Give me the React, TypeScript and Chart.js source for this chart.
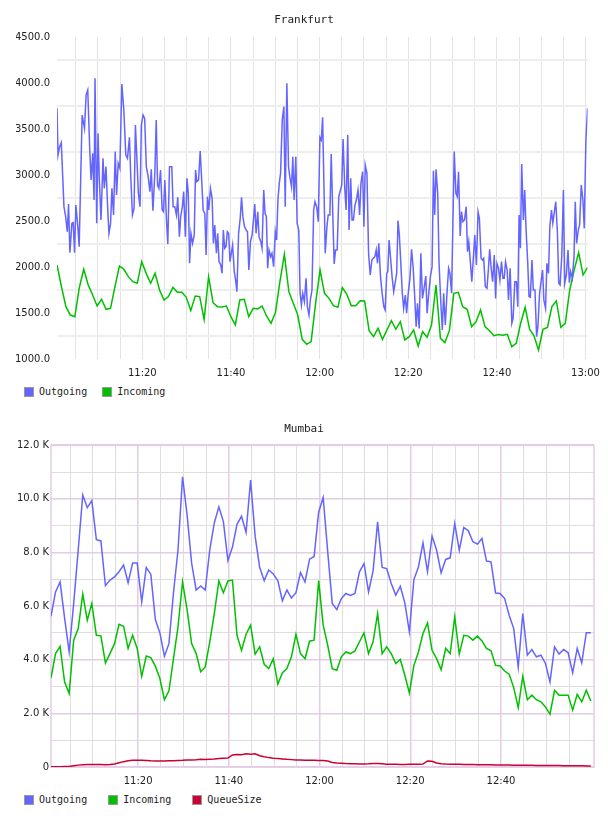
import React, { useEffect, useRef } from 'react';
import { Chart, registerables } from 'chart.js';

Chart.register(...registerables);

// ---------------- DATA ----------------
// time values are minutes after 11:00

// Frankfurt – Outgoing: [minute, value]
const fraOutgoingA: [number, number][] = [
  [0.75, 3725], [0.98, 3217], [1.35, 3308], [1.72, 3351], [2.32, 2656], [2.69, 2550], [3.07, 2384], [3.36, 2685],
  [3.66, 2156], [4.11, 2475], [4.41, 2482], [4.71, 2156], [5.01, 2674], [5.45, 2439], [5.75, 2221], [6.42, 3652],
  [6.95, 3507], [7.32, 3870], [7.69, 3924], [8.14, 3272], [8.44, 2946], [8.81, 3236], [9.11, 2728], [9.33, 4051],
  [9.71, 2475], [10.01, 3453], [10.3, 2946], [10.68, 2511], [11.13, 3181], [11.42, 2855], [11.8, 3091], [12.17, 2656],
  [12.47, 2366], [12.84, 2475], [13.14, 2855], [13.51, 2565], [13.89, 3254], [14.19, 2783], [14.56, 3127], [14.93, 3073],
  [15.38, 3989], [15.83, 3707], [16.27, 3217], [16.65, 3181], [17.1, 3409], [17.39, 2982], [17.77, 2565], [18.14, 2638],
  [18.44, 3543], [18.89, 3054], [19.11, 2801], [19.48, 2656], [19.78, 3543], [20.16, 3652], [20.53, 3616], [20.9, 3091],
  [21.27, 3000], [21.72, 2819], [22.02, 3062], [22.39, 2612], [22.84, 3036], [23.14, 3598], [23.44, 2891], [23.74, 2855],
  [24.11, 3054], [24.48, 2620], [24.78, 2601], [25.08, 2946], [25.45, 2511], [25.75, 2250], [26.13, 3091], [26.65, 3091],
  [26.95, 2656], [27.32, 2656], [27.69, 2565], [27.99, 2757], [28.36, 2330], [28.66, 2547], [29.04, 2656], [29.33, 2819],
  [29.71, 2330], [30.08, 2964],
];
const fraOutgoingB: [number, number][] = [
  [30.37, 2801], [30.67, 2040], [30.97, 2366], [31.34, 2257], [31.72, 2348], [32.01, 3054], [32.31, 2928], [32.69, 2946],
  [33.06, 3261], [33.43, 2910], [33.73, 2620], [34.1, 2583], [34.4, 2130], [34.7, 2765], [35.0, 2620], [35.37, 2855],
  [35.75, 2746], [36.04, 2257], [36.34, 2457], [36.72, 2149], [37.01, 2366], [37.31, 2058], [37.69, 2022], [37.99, 1931],
  [38.28, 2402], [38.58, 2203], [38.88, 2221], [39.18, 2384], [39.48, 2366], [39.78, 2058], [40.07, 2149], [40.37, 2239],
  [40.75, 1949], [41.04, 1859], [41.34, 1732], [41.72, 2366], [42.09, 2529], [42.39, 2757], [42.69, 2547], [43.06, 2439],
  [43.43, 2402], [43.73, 2384], [44.03, 1967], [44.4, 2275], [44.78, 2348], [45.07, 2511], [45.37, 2685], [45.67, 2366],
  [46.04, 2601], [46.34, 2330], [46.72, 2275], [47.01, 2203], [47.39, 2837], [47.69, 2583], [47.99, 2547], [48.28, 1986],
  [48.58, 2185], [48.96, 2112], [49.25, 2149], [49.63, 2004], [50.0, 2384], [50.3, 2293], [50.6, 2728], [50.9, 2910],
  [51.19, 3018], [51.57, 3598], [51.94, 3743], [52.24, 2656], [52.61, 3996], [52.99, 3091], [53.28, 2982], [53.66, 2873],
  [53.96, 3199], [54.25, 2728], [54.63, 3199], [54.93, 2475], [55.3, 2402], [55.6, 1714], [55.9, 1587], [56.19, 1714],
  [56.57, 1623], [56.94, 1877], [57.24, 1569], [57.61, 1478], [57.91, 1641], [58.28, 1750], [58.66, 2620], [58.96, 2710],
  [59.33, 2656], [59.7, 2493], [60.07, 3409],
];
const fraOutgoingC: [number, number][] = [
  [60.38, 3380], [60.68, 3627], [60.97, 2910], [61.27, 2149], [61.65, 2439], [61.94, 2565], [62.32, 2565], [62.62, 3228],
  [62.99, 2547], [63.29, 2033], [63.59, 2185], [63.96, 2185], [64.33, 2765], [64.71, 2837], [65.0, 2891], [65.3, 3391],
  [65.68, 2855], [65.97, 2620], [66.35, 3435], [66.65, 2402], [67.02, 2964], [67.32, 2511], [67.62, 2511], [67.99, 2674],
  [68.29, 2728], [68.66, 2837], [69.03, 2565], [69.33, 2910], [69.71, 3036], [70.0, 2439], [70.3, 3109], [70.68, 3018],
  [71.05, 2149], [71.42, 1913], [71.79, 2076], [72.09, 2094], [72.47, 2112], [72.77, 2185], [73.06, 2040], [73.36, 2257],
  [73.74, 1895], [74.11, 1714], [74.48, 1569], [74.78, 1533], [75.15, 1931], [75.38, 1950], [75.68, 2293], [76.05, 2076],
  [76.35, 1895], [76.72, 1732], [77.09, 1841], [77.39, 1931], [77.69, 2504], [77.99, 2348], [78.36, 2004], [78.66, 1714],
  [78.96, 1551], [79.33, 1696], [79.63, 1497], [80.0, 1714], [80.38, 1877], [80.75, 2192], [81.12, 1986], [81.42, 1714],
  [81.79, 1352], [82.09, 1605], [82.47, 1333], [82.84, 2149], [83.21, 1659], [83.51, 1750], [83.96, 1902], [84.26, 1497],
  [84.63, 1714], [85.0, 1895], [85.38, 2004], [85.68, 3047], [85.97, 2565], [86.27, 3062], [86.65, 2801], [86.94, 2058],
  [87.32, 1641], [87.69, 1315], [87.99, 1714], [88.36, 1370], [88.74, 1714], [89.11, 1986], [89.41, 1931], [89.78, 1714],
];
const fraOutgoingD: [number, number][] = [
  [90.38, 3254], [90.75, 2801], [91.05, 2765], [91.35, 3036], [91.72, 2337], [92.02, 2601], [92.32, 2493], [92.69, 2511],
  [93.07, 2656], [93.37, 2167], [93.66, 2275], [94.04, 2040], [94.34, 1841], [94.71, 2112], [95.01, 2348], [95.38, 2022],
  [95.75, 2601], [96.05, 2529], [96.43, 2094], [96.72, 2076], [97.02, 2094], [97.4, 1786], [97.77, 1768], [98.07, 1967],
  [98.37, 2192], [98.74, 1967], [99.04, 1841], [99.41, 2130], [99.71, 1659], [100.01, 2040], [100.38, 1986], [100.68, 1859],
  [101.05, 2058], [101.35, 1877], [101.65, 1877], [101.95, 2058], [102.32, 1967], [102.62, 1641], [102.99, 1986], [103.37, 1388],
  [103.66, 1442], [104.04, 1841], [104.41, 1841], [104.71, 1569], [105.01, 2565], [105.31, 2203], [105.6, 3120], [105.98, 2511],
  [106.28, 2837], [106.57, 2420], [106.95, 2058], [107.25, 1678], [107.55, 1670], [107.92, 2076], [108.22, 1750], [108.59, 1750],
  [108.96, 1243], [109.26, 1352], [109.63, 1714], [110.01, 1859], [110.31, 1967], [110.6, 1641], [110.98, 1551], [111.28, 2040],
  [111.65, 1931], [111.95, 2439], [112.32, 2620], [112.62, 2475], [113.0, 2612], [113.29, 2710], [113.66, 2366], [113.96, 1823],
  [114.26, 1805], [114.63, 2112], [115.01, 2837], [115.31, 1823], [115.68, 1913], [116.05, 2185], [116.35, 1830], [116.65, 1949],
  [117.02, 1877], [117.4, 2112], [117.69, 2710], [117.99, 2257], [118.37, 2402], [118.66, 2457], [119.04, 2891], [119.41, 2728],
  [119.71, 2420], [120.08, 3380], [120.46, 3725],
];

// Frankfurt – Incoming: one sample per minute
const fraIncomingA = [
  2022, 1786, 1569, 1478, 1460, 1775, 1975, 1804, 1696, 1576, 1649, 1540, 1551, 1786, 2011,
  1975, 1895, 1841, 1823, 2058, 1931, 1823, 1931, 1750, 1641, 1678, 1779, 1725, 1725, 1670,
];
const fraIncomingB = [
  1526, 1685, 1678, 1431, 1895, 1612, 1569, 1565, 1576, 1460, 1370, 1641, 1649, 1460, 1551,
  1544, 1576, 1468, 1388, 1504, 1841, 2138, 1732, 1605, 1478, 1214, 1160, 1189, 1605, 1967,
];
const fraIncomingC = [
  1714, 1659, 1580, 1562, 1775, 1703, 1580, 1580, 1634, 1630, 1308, 1243, 1333, 1214, 1315,
  1417, 1323, 1406, 1207, 1243, 1315, 1141, 1297, 1236, 1370, 1804, 1225, 1178, 1308,
];
const fraIncomingD = [
  1714, 1725, 1569, 1540, 1352, 1406, 1533, 1352, 1308, 1254, 1265, 1258, 1268, 1134, 1170, 1388,
  1562, 1323, 1250, 1098, 1323, 1344, 1569, 1631, 1344, 1388, 1750, 1967, 2156, 1913, 1996,
];
const FRA_START = 0.75;
const FRA_END = 120.46;

// Mumbai – one sample per minute
const MUM_START = 0.8;
const MUM_END = 120.5;
const mumOutgoing = [
  5620, 6530, 6900, 5550, 4290, 6100, 8090, 10140, 9670, 9930,
  8480, 8430, 6760, 6970, 7090, 7280, 7530, 6870, 7610, 7610,
  6160, 7440, 7190, 5500, 5000, 4130, 4600, 6500, 8100, 10820,
  9400, 7600, 6600, 6750, 6600, 8100, 9100, 9700, 9150, 7700,
  8200, 9050, 9350, 8750, 10700, 8600, 7450, 6950, 7350, 7200,
  6950, 6200, 6600, 6300, 6500, 7250, 6900, 7750, 7850, 9500,
  10050, 8020, 6100, 5870, 6280, 6470, 6400, 6470, 7280, 7590,
  6530, 7310, 9140, 7440, 7400, 6840, 6410, 6740, 6120, 5040,
  6990, 7460, 8360, 7280, 8610, 8090, 7240, 7740, 7800, 9080,
  8090, 8930, 8810, 8400, 8310, 8520, 7680, 7650, 6490, 6470,
  6280, 5660, 5160, 3730, 5720, 4170, 4380, 4110, 4170, 3860,
  3170, 4480, 4210, 4380, 4260, 3510, 4420, 3880, 5010, 5010,
];
const mumIncoming = [
  3320, 4230, 4500, 3170, 2740, 4730, 5160, 6450, 5470, 6100,
  4910, 4890, 3880, 4230, 4600, 5320, 5250, 4420, 4910, 4420,
  3380, 4140, 4080, 3760, 3300, 2510, 2840, 4040, 5230, 6900,
  5870, 4600, 4230, 3550, 3730, 4670, 5720, 6940, 6500, 6940,
  6970, 4910, 4350, 4950, 5290, 4210, 4480, 3830, 3670, 4040,
  3090, 3510, 3670, 4110, 4950, 4230, 4040, 4690, 4730, 6950,
  5290, 4540, 3670, 3610, 4110, 4290, 4230, 4330, 4670, 5000,
  4230, 4670, 5720, 4230, 4480, 4230, 3860, 4010, 3420, 2760,
  3790, 4290, 4980, 5370, 4350, 4040, 3630, 4420, 4230, 5600,
  4210, 4910, 4880, 4730, 4880, 4700, 4420, 4330, 3790, 3770,
  3580, 3460, 2960, 2210, 3380, 2510, 2680, 2510, 2430, 2240,
  1970, 2860, 2680, 2680, 2680, 2120, 2710, 2430, 2860, 2460,
];
const mumQueueSize = [
  10, 10, 10, 15, 20, 50, 70, 85, 90, 90,
  90, 95, 85, 90, 110, 160, 200, 230, 250, 255,
  250, 240, 230, 225, 225, 225, 230, 235, 245, 250,
  260, 265, 270, 285, 280, 290, 295, 320, 330, 335,
  450, 470, 460, 490, 480, 495, 420, 380, 350, 330,
  315, 300, 285, 275, 265, 260, 255, 255, 250, 245,
  240, 220, 170, 150, 140, 130, 125, 120, 115, 115,
  120, 130, 135, 120, 105, 100, 100, 95, 95, 100,
  100, 100, 110, 225, 215, 150, 125, 110, 105, 100,
  100, 95, 90, 90, 88, 85, 82, 80, 78, 75,
  72, 70, 68, 65, 65, 63, 62, 60, 58, 56,
  55, 53, 52, 50, 48, 46, 44, 42, 40, 37,
];

// x tick labels (minute -> label)
const fraTickMinutes = [20, 40, 60, 80, 100, 120];
const fraTickLabels = ['11:20', '11:40', '12:00', '12:20', '12:40', '13:00'];
const mumTickMinutes = [20, 40, 60, 80, 100];
const mumTickLabels = ['11:20', '11:40', '12:00', '12:20', '12:40'];

// ---------------- STYLE ----------------
const BLUE = '#6464ff';
const GREEN = '#00c000';
const RED = '#cc0033';
const TEXT = '#222';
const TICK_FONT = { family: 'DejaVu Sans', size: 10 };
const MONO = 'DejaVu Sans Mono';

function lineDs(label: string, color: string, pts: { x: number; y: number }[]) {
  return {
    label,
    data: pts,
    borderColor: color,
    backgroundColor: color,
    borderWidth: 1.5,
    pointRadius: 0,
    tension: 0,
    fill: false,
  };
}

function frankfurtConfig(): any {
  const out = [...fraOutgoingA, ...fraOutgoingB, ...fraOutgoingC, ...fraOutgoingD].map(([x, y]) => ({ x, y }));
  const incVals = [...fraIncomingA, ...fraIncomingB, ...fraIncomingC, ...fraIncomingD];
  const step = (FRA_END - FRA_START) / (incVals.length - 1);
  const inc = incVals.map((y, i) => ({ x: FRA_START + i * step, y }));
  return {
    type: 'line',
    data: { datasets: [lineDs('Outgoing', BLUE, out), lineDs('Incoming', GREEN, inc)] },
    options: {
      responsive: false,
      animation: false,
      layout: { padding: { left: 16, right: 16, top: 0, bottom: 0 } },
      plugins: {
        legend: { display: false },
        tooltip: { enabled: false },
        title: {
          display: true,
          text: 'Frankfurt',
          color: TEXT,
          font: { family: MONO, size: 11, weight: 'normal' },
          padding: { top: 13.4, bottom: 10.4 },
        },
      },
      scales: {
        x: {
          type: 'linear',
          min: FRA_START,
          max: FRA_END,
          afterFit: (s: any) => { s.height = 20; },
          border: { display: false },
          grid: { drawTicks: false, color: '#e3e3e3', lineWidth: 1 },
          ticks: {
            stepSize: 5,
            includeBounds: false,
            autoSkip: false,
            maxRotation: 0,
            minRotation: 0,
            padding: 8,
            color: TEXT,
            font: TICK_FONT,
            callback: (v: number) => {
              const k = fraTickMinutes.indexOf(Math.round(v));
              return k >= 0 ? fraTickLabels[k] : '';
            },
          },
        },
        y: {
          min: 1000,
          max: 4500,
          afterFit: (s: any) => { s.width = 41; },
          border: { display: false },
          grid: {
            drawTicks: false,
            lineWidth: 2,
            color: (c: any) => (c.tick && c.tick.value % 500 === 250 ? '#eeeeee' : 'rgba(0,0,0,0)'),
          },
          ticks: {
            stepSize: 250,
            padding: 7,
            color: TEXT,
            font: TICK_FONT,
            callback: (v: number) => (v % 500 === 0 ? v.toFixed(1) : ''),
          },
        },
      },
    },
  };
}

const MAJOR = '#e4cbe6';
const MINOR = '#dedede';

const framePlugin = {
  id: 'mumFrame',
  beforeDatasetsDraw(chart: any) {
    const { ctx, chartArea: a } = chart;
    ctx.save();
    ctx.strokeStyle = MAJOR;
    ctx.lineWidth = 1.5;
    ctx.strokeRect(a.left, a.top, a.right - a.left, a.bottom - a.top);
    ctx.restore();
  },
};

function mumXGridColor(c: any) {
  if (!c.tick) return MINOR;
  const v = Math.round(c.tick.value);
  if (v >= 120) return 'rgba(0,0,0,0)';
  return v % 20 === 0 ? MAJOR : MINOR;
}

function mumbaiConfig(): any {
  const pts = (vals: number[]) => vals.map((y, i) => ({ x: MUM_START + i, y }));
  return {
    type: 'line',
    data: {
      datasets: [
        lineDs('Outgoing', BLUE, pts(mumOutgoing)),
        lineDs('Incoming', GREEN, pts(mumIncoming)),
        lineDs('QueueSize', RED, pts(mumQueueSize)),
      ],
    },
    plugins: [framePlugin],
    options: {
      responsive: false,
      animation: false,
      layout: { padding: { left: 14, right: 14, top: 0, bottom: 0 } },
      plugins: {
        legend: { display: false },
        tooltip: { enabled: false },
        title: {
          display: true,
          text: 'Mumbai',
          color: TEXT,
          font: { family: MONO, size: 11, weight: 'normal' },
          padding: { top: 13.4, bottom: 9.6 },
        },
      },
      scales: {
        x: {
          type: 'linear',
          min: MUM_START,
          max: MUM_END,
          afterFit: (s: any) => { s.height = 20; },
          border: { display: false },
          grid: {
            drawTicks: false,
            color: mumXGridColor,
            lineWidth: (c: any) => (c.tick && Math.round(c.tick.value) % 20 === 0 ? 1.5 : 1),
          },
          ticks: {
            stepSize: 5,
            includeBounds: false,
            autoSkip: false,
            maxRotation: 0,
            minRotation: 0,
            padding: 8,
            color: TEXT,
            font: TICK_FONT,
            callback: (v: number) => {
              const k = mumTickMinutes.indexOf(Math.round(v));
              return k >= 0 ? mumTickLabels[k] : '';
            },
          },
        },
        y: {
          min: 0,
          max: 12000,
          afterFit: (s: any) => { s.width = 37; },
          border: { display: false },
          grid: {
            drawTicks: false,
            color: (c: any) => (c.tick && c.tick.value % 2000 === 0 ? MAJOR : MINOR),
            lineWidth: (c: any) => (c.tick && c.tick.value % 2000 === 0 ? 1.5 : 1),
          },
          ticks: {
            stepSize: 1000,
            padding: 2,
            color: TEXT,
            font: TICK_FONT,
            callback: (v: number) =>
              v % 2000 === 0 ? (v === 0 ? '0' : (v / 1000).toFixed(1) + ' K') : '',
          },
        },
      },
    },
  };
}

function ChartCanvas({ makeConfig, top, height }: { makeConfig: () => any; top: number; height: number }) {
  const ref = useRef<HTMLCanvasElement>(null);
  useEffect(() => {
    const chart = new Chart(ref.current as HTMLCanvasElement, makeConfig());
    return () => chart.destroy();
  }, []);
  return (
    <canvas
      ref={ref}
      width={608}
      height={height}
      style={{ position: 'absolute', left: 0, top, width: 608, height, display: 'block' }}
    />
  );
}

function Legend({ top, items, gap }: { top: number; items: [string, string][]; gap: number }) {
  return (
    <div
      style={{
        position: 'absolute',
        left: 24,
        top,
        height: 12,
        display: 'flex',
        alignItems: 'center',
        fontFamily: MONO,
        fontSize: 10,
        lineHeight: '12px',
        color: TEXT,
        whiteSpace: 'nowrap',
      }}
    >
      {items.map(([label, color], i) => (
        <div key={label} style={{ display: 'flex', alignItems: 'center', marginRight: i < items.length - 1 ? gap : 0 }}>
          <span
            style={{
              width: 8,
              height: 8,
              border: '1px solid #999',
              background: color,
              marginRight: 5,
              display: 'inline-block',
            }}
          />
          <span>{label}</span>
        </div>
      ))}
    </div>
  );
}

export default function App() {
  return (
    <div style={{ position: 'absolute', left: 0, top: 0, width: 608, height: 816, background: '#fff' }}>
      <ChartCanvas makeConfig={frankfurtConfig} top={0} height={379} />
      <Legend top={386} gap={15} items={[['Outgoing', BLUE], ['Incoming', GREEN]]} />
      <ChartCanvas makeConfig={mumbaiConfig} top={409} height={378} />
      <Legend top={794} gap={21} items={[['Outgoing', BLUE], ['Incoming', GREEN], ['QueueSize', RED]]} />
    </div>
  );
}
